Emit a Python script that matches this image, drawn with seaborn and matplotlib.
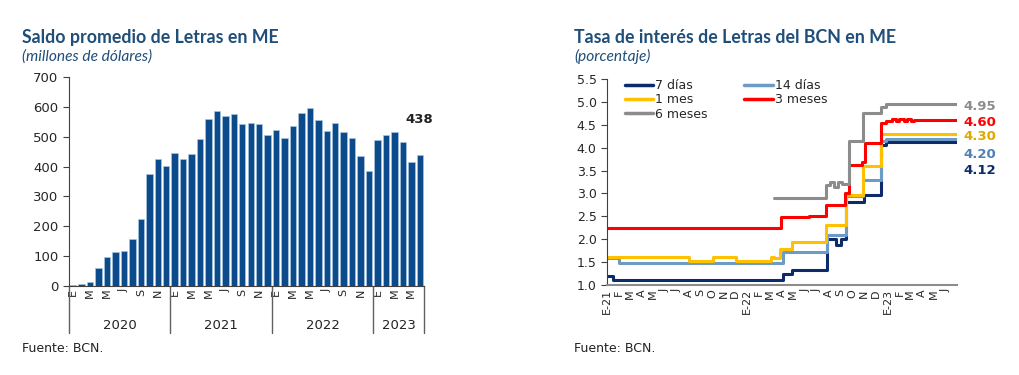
import numpy as np
import pandas as pd
import matplotlib
matplotlib.use("Agg")
import matplotlib.pyplot as plt
import matplotlib.transforms as mtransforms
from matplotlib.lines import Line2D
import seaborn as sns

# Saldo promedio de Letras en ME (millones de dolares), ene-2020 a jun-2023
anios = ["2020", "2021", "2022", "2023"]
meses_por_anio = [12, 12, 12, 6]
meses = ["E", "F", "M", "A", "M", "J", "J", "A", "S", "O", "N", "D"]
saldo_2020 = [4, 8, 15, 59, 97, 114, 117, 158, 223, 376, 427, 403]
saldo_2021 = [444, 427, 441, 491, 559, 586, 570, 576, 543, 546, 543, 506]
saldo_2022 = [522, 496, 536, 581, 596, 556, 520, 547, 517, 496, 437, 384]
saldo_2023 = [489, 506, 517, 482, 417, 438]

# Tasa de interes de Letras (%) - fechas en que cambia cada serie
fechas_7d = ["2021-01-01", "2021-01-17", "2022-04-05", "2022-04-28", "2022-07-28",
             "2022-08-20", "2022-09-02", "2022-09-14", "2022-11-02", "2022-12-16",
             "2022-12-28", "2023-06-30"]
tasa_7d = [1.20, 1.10, 1.25, 1.33, 2.00, 1.87, 2.00, 2.82, 2.97, 4.06, 4.12, 4.12]

fechas_14d = ["2021-01-01", "2021-02-02", "2022-04-05", "2022-07-28", "2022-09-14",
              "2022-10-28", "2022-12-16", "2022-12-28", "2023-06-30"]
tasa_14d = [1.58, 1.48, 1.73, 2.10, 2.95, 3.30, 4.15, 4.20, 4.20]

fechas_1m = ["2021-01-01", "2021-08-02", "2021-10-03", "2021-12-03", "2022-03-03",
             "2022-03-12", "2022-03-28", "2022-04-28", "2022-07-26", "2022-09-14",
             "2022-10-30", "2022-12-16", "2023-06-30"]
tasa_1m = [1.62, 1.53, 1.62, 1.53, 1.62, 1.58, 1.78, 1.93, 2.31, 2.97, 3.60, 4.30, 4.30]

fechas_3m = ["2021-01-01", "2022-03-31", "2022-06-11", "2022-07-26", "2022-09-13",
             "2022-09-23", "2022-10-26", "2022-11-03", "2022-12-16", "2022-12-28",
             "2023-01-12", "2023-01-22", "2023-02-01", "2023-02-12", "2023-02-20",
             "2023-03-02", "2023-03-10", "2023-06-30"]
tasa_3m = [2.25, 2.48, 2.51, 2.75, 3.00, 3.62, 3.69, 4.10, 4.54, 4.58,
           4.62, 4.58, 4.62, 4.58, 4.62, 4.58, 4.60, 4.60]

fechas_6m = ["2022-03-12", "2022-07-26", "2022-08-05", "2022-08-16", "2022-08-24",
             "2022-09-05", "2022-09-23", "2022-10-28", "2022-12-16", "2022-12-28",
             "2023-06-30"]
tasa_6m = [2.89, 3.18, 3.25, 3.15, 3.25, 3.20, 4.15, 4.75, 4.89, 4.95, 4.95]

plazos = ["7 días", "14 días", "1 mes", "3 meses", "6 meses"]
colores = ["#0d2b6b", "#6c9bc6", "#ffc000", "#ff0000", "#8c8c8c"]
colores_etiq = ["#0d2b6b", "#4f81b4", "#e0a800", "#ff0000", "#8c8c8c"]
valores_fin = ["4.12", "4.20", "4.30", "4.60", "4.95"]

sns.set_style("ticks")
plt.rcParams["font.family"] = ["DejaVu Sans"]

azul_titulo = "#1f4e79"
fig = plt.figure(figsize=(10.19, 3.75), dpi=100)

# ---------------- grafico izquierdo: barras ----------------
saldo = saldo_2020 + saldo_2021 + saldo_2022 + saldo_2023
ax1 = fig.add_axes([0.0677, 0.2373, 0.3484, 0.5573])
sns.barplot(x=np.arange(len(saldo)), y=saldo, color="#0b4a8b", saturation=1,
            width=0.76, edgecolor="#a9c4e0", linewidth=0.5, ax=ax1)
ax1.set_xlim(-0.5, len(saldo) - 0.5)
ax1.set_ylim(0, 700)
ax1.set_yticks(range(0, 701, 100))
ax1.set_xlabel("")
ax1.set_ylabel("")
etiq = []
for n in meses_por_anio:
    etiq += meses[:n]
pos = [i for i in range(len(saldo)) if i % 2 == 0]
ax1.set_xticks(pos)
ax1.set_xticklabels([etiq[i] for i in pos], rotation=90, fontsize=8)
ax1.tick_params(axis="x", length=0, pad=2)
ax1.tick_params(axis="y", labelsize=9.5, length=4, direction="out", color="#404040")
for s in ["top", "right"]:
    ax1.spines[s].set_visible(False)
ax1.spines["left"].set_color("#404040")
ax1.spines["bottom"].set_color("#404040")

trans1 = mtransforms.blended_transform_factory(ax1.transData, ax1.transAxes)
limites = np.concatenate([[0], np.cumsum(meses_por_anio)]) - 0.5
for b in limites:
    ax1.plot([b, b], [0, -0.225], transform=trans1, color="#606060", lw=1, clip_on=False)
for a, (i0, i1) in zip(anios, zip(limites[:-1], limites[1:])):
    ax1.text((i0 + i1) / 2, -0.187, a, transform=trans1, ha="center", va="center",
             fontsize=9.5, color="#222222")

ax1.annotate(str(saldo[-1]), (len(saldo) - 1, saldo[-1]), xytext=(0, 26),
             textcoords="offset points", ha="center", va="center",
             fontsize=9.5, fontweight="bold", color="#222222")

fig.text(0.0216, 0.9, "Saldo promedio de Letras en ME", fontsize=12.8, fontweight="bold",
         family="Lato", color=azul_titulo, va="center")
fig.text(0.0216, 0.85, "(millones de dólares)", fontsize=11.2, style="italic",
         family="Lato", color=azul_titulo, va="center")
fig.text(0.0216, 0.07, "Fuente: BCN.", fontsize=9, color="#222222", va="center")

# ---------------- grafico derecho: tasas ----------------
series = [(plazos[0], fechas_7d, tasa_7d), (plazos[1], fechas_14d, tasa_14d),
          (plazos[2], fechas_1m, tasa_1m), (plazos[3], fechas_3m, tasa_3m),
          (plazos[4], fechas_6m, tasa_6m)]
filas = []
for nombre, fechas, tasas in series:
    for f, t in zip(fechas, tasas):
        filas.append((pd.Timestamp(f), t, nombre))
df = pd.DataFrame(filas, columns=["fecha", "tasa", "plazo"])

ax2 = fig.add_axes([0.5957, 0.24, 0.3435, 0.5493])
sns.lineplot(data=df, x="fecha", y="tasa", hue="plazo", hue_order=plazos,
             palette=colores, drawstyle="steps-post", linewidth=2.2,
             estimator=None, legend=False, ax=ax2)
ax2.set_xlim(pd.Timestamp("2021-01-01"), pd.Timestamp("2023-07-01"))
ax2.set_ylim(1.0, 5.5)
ax2.set_yticks(np.arange(1.0, 5.51, 0.5))
ax2.set_yticklabels([f"{v:.1f}" for v in np.arange(1.0, 5.51, 0.5)])
ax2.set_xlabel("")
ax2.set_ylabel("")
ticks_mes = pd.date_range("2021-01-01", "2023-06-01", freq="MS")
ax2.set_xticks(ticks_mes)
ax2.set_xticklabels([f"E-{d.year % 100}" if d.month == 1 else meses[d.month - 1]
                     for d in ticks_mes], rotation=90, fontsize=8, va="top")
ax2.tick_params(axis="x", length=0, pad=3)
ax2.tick_params(axis="y", labelsize=9, length=4, direction="out", color="#404040")
for s in ["top", "right"]:
    ax2.spines[s].set_visible(False)
ax2.spines["left"].set_color("#404040")
ax2.spines["bottom"].set_color("#8c8c8c")
ax2.spines["bottom"].set_linewidth(1.5)

# etiquetas de valor final (posiciones separadas para que no se encimen)
pos_etiq = [3.51, 3.86, 4.25, 4.56, 4.89]
trans2 = mtransforms.blended_transform_factory(ax2.transAxes, ax2.transData)
for txt, c, yy in zip(valores_fin, colores_etiq, pos_etiq):
    ax2.text(1.017, yy, txt, transform=trans2, color=c, fontsize=9.5,
             fontweight="bold", va="center", ha="left")

orden = [0, 2, 4, 1, 3]
handles = [Line2D([0], [0], color=colores[i], lw=2.5) for i in orden]
ax2.legend(handles, [plazos[i] for i in orden], ncol=2, loc="upper left",
           bbox_to_anchor=(0.05, 1.0), frameon=False, fontsize=9,
           handlelength=2.3, handletextpad=0.15, labelspacing=0.1,
           columnspacing=2.9, borderaxespad=0, borderpad=0)

fig.text(0.5633, 0.9, "Tasa de interés de Letras del BCN en ME", fontsize=12.8,
         fontweight="bold", family="Lato", color=azul_titulo, va="center")
fig.text(0.5633, 0.85, "(porcentaje)", fontsize=11.2, style="italic",
         family="Lato", color=azul_titulo, va="center")
fig.text(0.5633, 0.07, "Fuente: BCN.", fontsize=9, color="#222222", va="center")

fig.savefig("out.png", dpi=100)
